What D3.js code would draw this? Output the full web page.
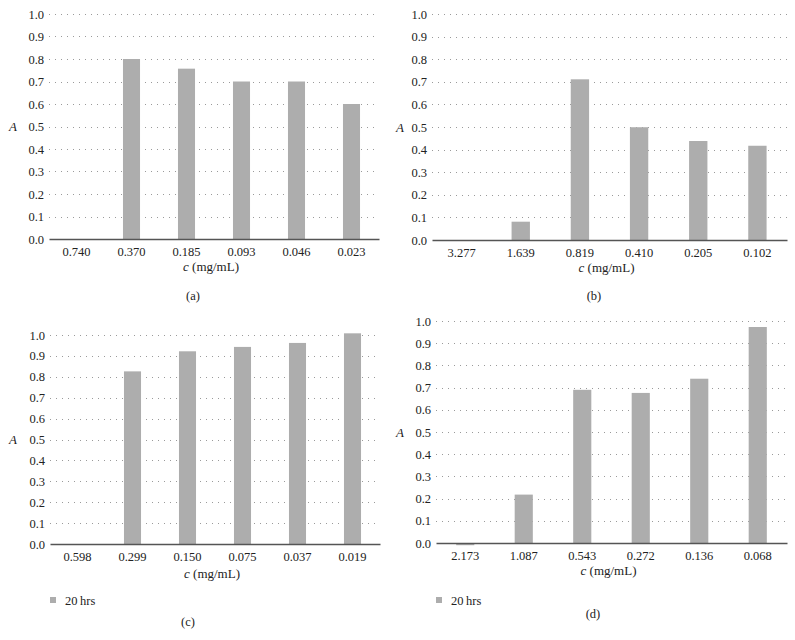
<!DOCTYPE html>
<html>
<head>
<meta charset="utf-8">
<script src="https://cdn.jsdelivr.net/npm/d3@7/dist/d3.min.js"></script>
<style>
  body { margin: 0; background: #fff; }
  svg { display: block; font-family: "Liberation Serif", "Times New Roman", serif; }
</style>
</head>
<body>
<svg id="chart" width="795" height="640"></svg>
<script>
// ---- data ----
const catsA = ["0.740", "0.370", "0.185", "0.093", "0.046", "0.023"];
const valsA = [0, 0.80, 0.757, 0.70, 0.70, 0.60];

const catsB = ["3.277", "1.639", "0.819", "0.410", "0.205", "0.102"];
const valsB = [0, 0.081, 0.711, 0.499, 0.438, 0.417];

const catsC = ["0.598", "0.299", "0.150", "0.075", "0.037", "0.019"];
const valsC = [0, 0.826, 0.922, 0.943, 0.962, 1.008];

const catsD = ["2.173", "1.087", "0.543", "0.272", "0.136", "0.068"];
const valsD = [-0.01, 0.218, 0.69, 0.676, 0.74, 0.973];

const yTicks = [0, 0.1, 0.2, 0.3, 0.4, 0.5, 0.6, 0.7, 0.8, 0.9, 1.0];
const seriesName = "20\u2009hrs";
const panelLabels = ["(a)", "(b)", "(c)", "(d)"];

// ---- layout ----
const panels = [
  { cats: catsA, vals: valsA, label: panelLabels[0], L: 49, R: 379, T: 14, B: 239, aX: 13, titleDy: 32, capX: 193, capY: 300, legend: false },
  { cats: catsB, vals: valsB, label: panelLabels[1], L: 432, R: 787, T: 14, B: 240, aX: 400, titleDy: 32, capX: 594, capY: 300, legend: false },
  { cats: catsC, vals: valsC, label: panelLabels[2], L: 50, R: 380, T: 335, B: 544, aX: 13, titleDy: 34, capX: 188, capY: 626, legend: true },
  { cats: catsD, vals: valsD, label: panelLabels[3], L: 436, R: 787, T: 321, B: 543, aX: 400, titleDy: 32, capX: 593, capY: 618, legend: true }
];

const svg = d3.select("#chart");
const barColor = "#adadad";
const fs = "12.5px";

panels.forEach(p => {
  const g = svg.append("g");
  const x = d3.scaleBand().domain(p.cats).range([p.L, p.R]).paddingInner(0.69).paddingOuter(0.345);
  const y = d3.scaleLinear().domain([0, 1]).range([p.B, p.T]);

  // gridlines
  g.selectAll("line.grid").data(yTicks.filter(t => t > 0)).enter().append("line")
    .attr("x1", p.L).attr("x2", p.R)
    .attr("y1", d => Math.round(y(d)) + 0.5).attr("y2", d => Math.round(y(d)) + 0.5)
    .attr("stroke", "#9a9a9a").attr("stroke-width", 1)
    .attr("stroke-dasharray", "1,5");

  // bars
  g.selectAll("rect.bar").data(p.vals).enter().append("rect")
    .attr("x", (d, i) => x(p.cats[i]))
    .attr("width", x.bandwidth())
    .attr("y", d => Math.min(y(d), y(0)))
    .attr("height", d => Math.abs(y(d) - y(0)))
    .attr("fill", barColor);

  // y axis
  const ya = g.append("g").attr("transform", `translate(${p.L},0)`)
    .call(d3.axisLeft(y).tickValues(yTicks).tickFormat(d3.format(".1f")).tickSize(0).tickPadding(5));
  ya.select(".domain").remove();
  ya.selectAll("text").attr("font-size", fs).attr("fill", "#222").style("font-family", "Liberation Serif");

  // x axis
  const xa = g.append("g").attr("transform", `translate(0,${p.B})`)
    .call(d3.axisBottom(x).tickSize(0).tickPadding(8));
  xa.select(".domain").attr("stroke", "#555").attr("stroke-width", 1.3);
  xa.selectAll("text").attr("font-size", fs).attr("fill", "#222").style("font-family", "Liberation Serif");

  // A label
  g.append("text").attr("x", p.aX).attr("y", y(0.5)).attr("dy", "0.35em")
    .attr("text-anchor", "middle").attr("font-style", "italic").attr("font-size", "13px").attr("fill", "#222")
    .text("A");

  // x title
  const t = g.append("text").attr("x", (p.L + p.R) / 2 - 3).attr("y", p.B + p.titleDy)
    .attr("text-anchor", "middle").attr("font-size", "13px").attr("fill", "#222");
  t.append("tspan").attr("font-style", "italic").text("c");
  t.append("tspan").text(" (mg/mL)");

  // legend
  if (p.legend) {
    g.append("rect").attr("x", p.L).attr("y", 597).attr("width", 6).attr("height", 6).attr("fill", barColor);
    g.append("text").attr("x", p.L + 15).attr("y", 604.5).attr("font-size", fs).attr("fill", "#222").text(seriesName);
  }

  // caption
  g.append("text").attr("x", p.capX).attr("y", p.capY)
    .attr("text-anchor", "middle").attr("font-size", "12.5px").attr("fill", "#222").text(p.label);
});
</script>
</body>
</html>
